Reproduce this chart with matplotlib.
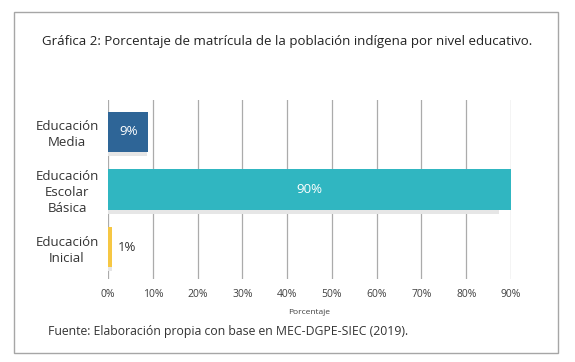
import matplotlib
matplotlib.use("Agg")
import matplotlib.pyplot as plt
import matplotlib.transforms as mtransforms
from matplotlib.patches import Rectangle

categories = ["Educación\nInicial", "Educación\nEscolar\nBásica", "Educación\nMedia"]
values = [0.01, 0.90, 0.09]
labels = ["1%", "90%", "9%"]
colors = ["#F6C744", "#30B6C1", "#2E6597"]
ticks = [0, 0.1, 0.2, 0.3, 0.4, 0.5, 0.6, 0.7, 0.8, 0.9]
tick_labels = ["0%", "10%", "20%", "30%", "40%", "50%", "60%", "70%", "80%", "90%"]

plt.rcParams['font.family'] = ['Open Sans', 'DejaVu Sans']

fig = plt.figure(figsize=(5.75, 3.62), dpi=100)
fig.patch.set_facecolor("white")
fig.patches.append(Rectangle((14/575, 1-353/362), (558-14)/575, (353-12)/362,
                             transform=fig.transFigure, fill=False,
                             edgecolor="#A6A6A6", linewidth=1.0))

ax = fig.add_axes([108/575, 1-279/362, (511-108)/575, (279-100)/362])
ypos = list(range(len(categories)))

shadow_tr = mtransforms.offset_copy(ax.transData, fig=fig, x=0, y=-4, units='dots')
ax.barh(ypos, [v*0.97 for v in values], height=0.7, color="#E6E6E6",
        transform=shadow_tr, zorder=2)
bars = ax.barh(ypos, values, height=0.7, color=colors, zorder=3)

for i, (b, v, lab) in enumerate(zip(bars, values, labels)):
    if v > 0.05:
        ax.text(v/2, i, lab, ha="center", va="center", color="white", fontsize=9.5, zorder=4)
    else:
        ax.text(v + 0.012, i, lab, ha="left", va="center", color="#333333", fontsize=9.5, zorder=4)

ax.set_xlim(0, 0.9)
ax.set_ylim(-0.55, 2.55)
ax.set_xticks(ticks)
ax.set_xticklabels(tick_labels, fontsize=7.5, color="#404040")
ax.set_yticks(ypos)
ax.set_yticklabels(categories, fontsize=9.5, color="#333333", ha="center", linespacing=1.3)
ax.tick_params(axis='y', length=0, pad=29.5)
ax.tick_params(axis='x', length=0, pad=7)
ax.xaxis.grid(True, color="#ABABAB", linewidth=0.9, zorder=0)
ax.set_axisbelow(True)
for s in ax.spines.values():
    s.set_visible(False)
ax.set_xlabel("Porcentaje", fontsize=6, color="#404040", labelpad=7)

fig.text(287/575, 1-42/362, "Gráfica 2: Porcentaje de matrícula de la población indígena por nivel educativo.",
         ha="center", va="center", fontsize=9.5, color="#222222")
fig.text(48/575, 1-331/362, "Fuente: Elaboración propia con base en MEC-DGPE-SIEC (2019).",
         ha="left", va="center", fontsize=8.8, color="#333333")

fig.savefig("out.png", dpi=100, facecolor="white")
